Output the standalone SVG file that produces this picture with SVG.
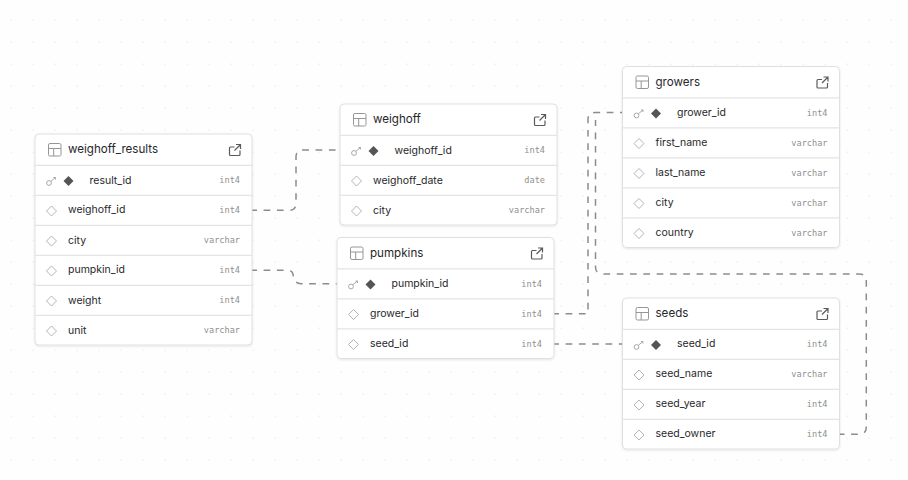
<svg xmlns="http://www.w3.org/2000/svg" width="908" height="480" viewBox="0 0 908 480">
<style>
.card{fill:#fff;stroke:#e0e0e0;stroke-width:1;filter:url(#sh)}
.sep{stroke:#e4e4e4;stroke-width:1.3}
.ti{font:400 11.600px Inter,"Liberation Sans",sans-serif;fill:#27272a}
.nm{font:400 10.500px Inter,"Liberation Sans",sans-serif;fill:#27272a}
.ty{font:8.600px "DejaVu Sans Mono","Liberation Mono",monospace;fill:#8f8f8f;text-anchor:end}
.ic{fill:none;stroke:#969696;stroke-width:1}
.ex{fill:none;stroke:#5a5a5a;stroke-width:1.200}
.dm{fill:none;stroke:#b4b4b4;stroke-width:1}
.pk{fill:#555}
.key{fill:none;stroke:#a8a8a8;stroke-width:1}
.con{fill:none;stroke:#8c8c8c;stroke-width:1.500;stroke-dasharray:6.700 6.600;stroke-dashoffset:1.700}
</style>
<defs>
<pattern id="dots" width="22" height="22" patternUnits="userSpaceOnUse" x="0" y="9"><rect x="10.500" y="10.500" width="1.500" height="1.500" fill="#f0f0f0"/></pattern>
<filter id="sh" x="-5%" y="-5%" width="110%" height="110%"><feDropShadow dx="0" dy="1" stdDeviation="1" flood-color="#000" flood-opacity="0.1"/></filter>
<g id="tbl"><rect class="ic" x="13.500" y="9.500" width="12.500" height="12.500" rx="1.500"/><path class="ic" d="M13.500 14.500H26M18.700 14.500V22"/></g>
<path id="ext" class="ex" d="M199.500 13H195.500a1 1 0 0 0-1 1V20.500a1 1 0 0 0 1 1H204a1 1 0 0 0 1-1V16.500M199.500 16.500L205.500 10.500M201 10.500H205.500V15"/>
<path id="dia" class="dm" d="M16.500 10L21.500 15L16.500 20L11.500 15Z"/>
<g id="pkm"><circle class="key" cx="14" cy="17" r="2.400"/><path class="key" d="M15.800 15.300L20.500 11.500M18.500 11.500H20.500V13.500"/><path class="pk" d="M33.500 10L38.500 15L33.500 20L28.500 15Z"/></g>
</defs>
<rect width="908" height="480" fill="#fefefe"/>
<rect width="908" height="480" fill="url(#dots)"/>
<g id="connectors">
<path class="con" d="M252 210.300H289Q296 210.300 296 203.300V157Q296 150 303 150H340"/>
<path class="con" d="M252 270.300H288Q292 270.300 293 274Q294 283.700 301 283.700H337"/>
<path class="con" d="M554 313.700H588V119.500Q588 112.500 595 112.500H622.500"/>
<path class="con" d="M554 344H622.500"/>
<path class="con" d="M839.500 434.300H859Q866.300 434.300 866.300 427V281Q866.300 274 859 274H603Q595.500 274 595.500 267V120"/>
</g>
<g id="weighoff_results" transform="translate(35 134)">
<rect class="card" width="217" height="211" rx="4"/>
<path class="sep" d="M0 31.300H217M0 61.300H217M0 91.300H217M0 121.300H217M0 151.300H217M0 181.300H217"/>
<use href="#tbl"/><text class="ti" x="33" y="19">weighoff_results</text><use href="#ext"/>
<use href="#pkm" y="32"/><text class="nm" x="54.500" y="49.500">result_id</text><text class="ty" x="205" y="49">int4</text>
<use href="#dia" y="62"/><text class="nm" x="33" y="79">weighoff_id</text><text class="ty" x="205" y="79">int4</text>
<use href="#dia" y="92"/><text class="nm" x="33" y="109.500">city</text><text class="ty" x="205" y="109">varchar</text>
<use href="#dia" y="122"/><text class="nm" x="33" y="139">pumpkin_id</text><text class="ty" x="205" y="139">int4</text>
<use href="#dia" y="152"/><text class="nm" x="33" y="169.500">weight</text><text class="ty" x="205" y="169">int4</text>
<use href="#dia" y="182"/><text class="nm" x="33" y="199.500">unit</text><text class="ty" x="205" y="199">varchar</text>
</g>
<g id="weighoff" transform="translate(340 104)">
<rect class="card" width="217" height="121" rx="4"/>
<path class="sep" d="M0 31.300H217M0 61.300H217M0 91.300H217"/>
<use href="#tbl"/><text class="ti" x="33" y="19">weighoff</text><use href="#ext"/>
<use href="#pkm" y="32"/><text class="nm" x="54.500" y="49.500">weighoff_id</text><text class="ty" x="205" y="49">int4</text>
<use href="#dia" y="62"/><text class="nm" x="33" y="79.500">weighoff_date</text><text class="ty" x="205" y="79">date</text>
<use href="#dia" y="92"/><text class="nm" x="33" y="109.500">city</text><text class="ty" x="205" y="109">varchar</text>
</g>
<g id="pumpkins" transform="translate(337 237.500)">
<rect class="card" width="217" height="121" rx="4"/>
<path class="sep" d="M0 31.300H217M0 61.300H217M0 91.300H217"/>
<use href="#tbl"/><text class="ti" x="33" y="19">pumpkins</text><use href="#ext"/>
<use href="#pkm" y="32"/><text class="nm" x="54.500" y="49.500">pumpkin_id</text><text class="ty" x="205" y="49">int4</text>
<use href="#dia" y="62"/><text class="nm" x="33" y="79">grower_id</text><text class="ty" x="205" y="79">int4</text>
<use href="#dia" y="92"/><text class="nm" x="33" y="109">seed_id</text><text class="ty" x="205" y="109">int4</text>
</g>
<g id="growers" transform="translate(622.500 66.500)">
<rect class="card" width="217" height="181" rx="4"/>
<path class="sep" d="M0 31.300H217M0 61.300H217M0 91.300H217M0 121.300H217M0 151.300H217"/>
<use href="#tbl"/><text class="ti" x="33" y="19">growers</text><use href="#ext"/>
<use href="#pkm" y="32"/><text class="nm" x="54.500" y="49">grower_id</text><text class="ty" x="205" y="49">int4</text>
<use href="#dia" y="62"/><text class="nm" x="33" y="79">first_name</text><text class="ty" x="205" y="79">varchar</text>
<use href="#dia" y="92"/><text class="nm" x="33" y="109">last_name</text><text class="ty" x="205" y="109">varchar</text>
<use href="#dia" y="122"/><text class="nm" x="33" y="139">city</text><text class="ty" x="205" y="139">varchar</text>
<use href="#dia" y="152"/><text class="nm" x="33" y="169">country</text><text class="ty" x="205" y="169">varchar</text>
</g>
<g id="seeds" transform="translate(622.500 298)">
<rect class="card" width="217" height="151" rx="4"/>
<path class="sep" d="M0 31.300H217M0 61.300H217M0 91.300H217M0 121.300H217"/>
<use href="#tbl"/><text class="ti" x="33" y="19">seeds</text><use href="#ext"/>
<use href="#pkm" y="32"/><text class="nm" x="54.500" y="49">seed_id</text><text class="ty" x="205" y="49">int4</text>
<use href="#dia" y="62"/><text class="nm" x="33" y="79">seed_name</text><text class="ty" x="205" y="79">varchar</text>
<use href="#dia" y="92"/><text class="nm" x="33" y="109">seed_year</text><text class="ty" x="205" y="109">int4</text>
<use href="#dia" y="122"/><text class="nm" x="33" y="139">seed_owner</text><text class="ty" x="205" y="139">int4</text>
</g>
</svg>
